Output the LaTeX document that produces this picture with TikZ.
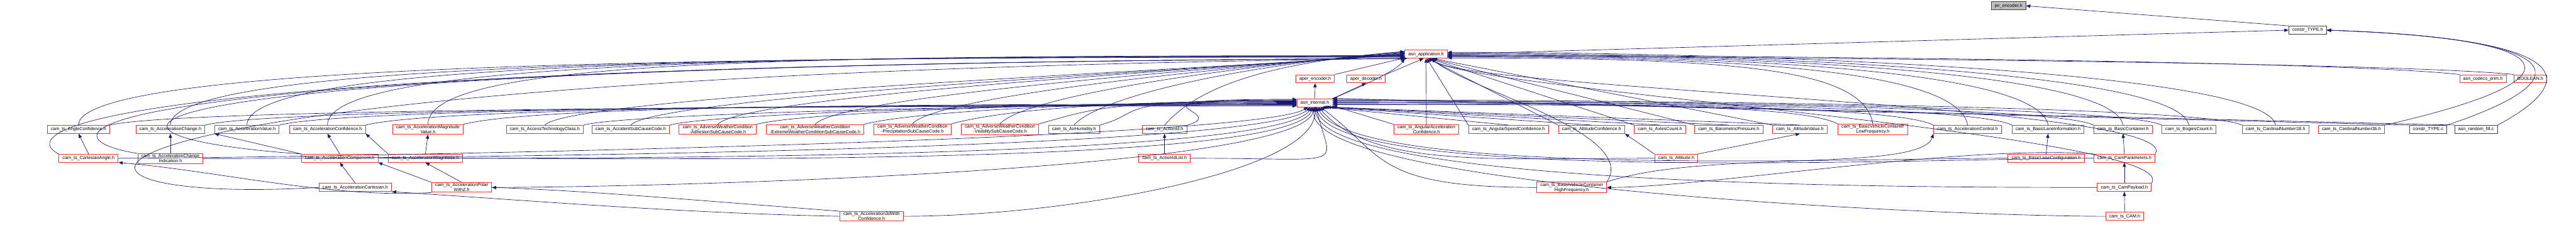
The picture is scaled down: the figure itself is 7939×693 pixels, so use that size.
\documentclass[tikz,border=0pt]{standalone}
\usepackage{fontspec}
\newfontfamily\doxfont{Liberation Sans}
\usetikzlibrary{arrows.meta}
\definecolor{edgeBlue}{HTML}{191970}
\definecolor{hdrRed}{HTML}{FF2A2A}
\definecolor{rootGray}{HTML}{BFBFBF}

\begin{document}
\begin{tikzpicture}[
  x=1pt,y=-1pt,
  every node/.style={font=\doxfont\fontsize{14}{15.5}\selectfont},
  hdr/.style={draw=hdrRed,line width=1.6pt,fill=white,minimum height=25pt,
    inner xsep=11pt,inner ysep=2pt,align=center},
  plain/.style={hdr,draw=black!75},
  dep/.style={-{Triangle[length=13pt,width=10pt]},draw=edgeBlue,line width=1.3pt}
]
  \useasboundingbox (0,0) rectangle (7939,693);

  % top of the graph
  \node[plain,fill=rootGray] (jer) at (6190,18) {jer\_encoder.h};
  \node[plain] (ctype) at (7112,93) {constr\_TYPE.h};
  \node[hdr] (app) at (4395,167) {asn\_application.h};
  \node[hdr] (aenc) at (4053,243) {aper\_encoder.h};
  \node[hdr] (adec) at (4210,243) {aper\_decoder.h};
  \node[hdr] (prim) at (7652,243) {asn\_codecs\_prim.h};
  \node[hdr] (bool) at (7798,243) {BOOLEAN.h};
  \node[hdr] (int) at (4052,317) {asn\_internal.h};

  % first row of types
  \node[hdr] (angconf) at (242,399) {cam\_ts\_AngleConfidence.h};
  \node[hdr] (accchg) at (525,399) {cam\_ts\_AccelerationChange.h};
  \node[hdr] (accval) at (761,399) {cam\_ts\_AccelerationValue.h};
  \node[hdr] (accconf) at (1009,399) {cam\_ts\_AccelerationConfidence.h};
  \node[hdr] (accmagval) at (1319,399) {cam\_ts\_AccelerationMagnitude\\Value.h};
  \node[hdr] (acctech) at (1679,399) {cam\_ts\_AccessTechnologyClass.h};
  \node[hdr] (accsub) at (1944,399) {cam\_ts\_AccidentSubCauseCode.h};
  \node[hdr] (awcadh) at (2212,399) {cam\_ts\_AdverseWeatherCondition\\-AdhesionSubCauseCode.h};
  \node[hdr] (awcext) at (2512,399) {cam\_ts\_AdverseWeatherCondition\\-ExtremeWeatherConditionSubCauseCode.h};
  \node[hdr] (awcprec) at (2812,399) {cam\_ts\_AdverseWeatherCondition\\-PrecipitationSubCauseCode.h};
  \node[hdr] (awcvis) at (3082,399) {cam\_ts\_AdverseWeatherCondition\\-VisibilitySubCauseCode.h};
  \node[hdr] (airhum) at (3310,399) {cam\_ts\_AirHumidity.h};
  \node[hdr] (actid) at (3589,399) {cam\_ts\_ActionId.h};
  \node[hdr] (angaccconf) at (4396,399) {cam\_ts\_AngularAcceleration\\Confidence.h};
  \node[hdr] (angspd) at (4649,399) {cam\_ts\_AngularSpeedConfidence.h};
  \node[hdr] (altconf) at (4905,399) {cam\_ts\_AltitudeConfidence.h};
  \node[hdr] (axles) at (5116,399) {cam\_ts\_AxlesCount.h};
  \node[hdr] (baro) at (5328,399) {cam\_ts\_BarometricPressure.h};
  \node[hdr] (altval) at (5547,399) {cam\_ts\_AltitudeValue.h};
  \node[hdr] (bvclf) at (5772,399) {cam\_ts\_BasicVehicleContainer\\LowFrequency.h};
  \node[hdr] (accctl) at (6064,399) {cam\_ts\_AccelerationControl.h};
  \node[hdr] (bli) at (6312,399) {cam\_ts\_BasicLaneInformation.h};
  \node[hdr] (bcont) at (6543,399) {cam\_ts\_BasicContainer.h};
  \node[hdr] (bogies) at (6746,399) {cam\_ts\_BogiesCount.h};
  \node[hdr] (card1b) at (7013,399) {cam\_ts\_CardinalNumber1B.h};
  \node[hdr] (card3b) at (7247,399) {cam\_ts\_CardinalNumber3b.h};
  \node[plain] (ctypec) at (7483,399) {constr\_TYPE.c};
  \node[plain] (rfill) at (7631,399) {asn\_random\_fill.c};

  % lower rows
  \node[hdr] (cartang) at (273,488) {cam\_ts\_CartesianAngle.h};
  \node[hdr] (accchgind) at (525,489) {cam\_ts\_AccelerationChange\\Indication.h};
  \node[hdr] (acccomp) at (1047,488) {cam\_ts\_AccelerationComponent.h};
  \node[hdr] (accmag) at (1311,488) {cam\_ts\_AccelerationMagnitude.h};
  \node[hdr] (actidl) at (3589,488) {cam\_ts\_ActionIdList.h};
  \node[hdr] (alt) at (5166,488) {cam\_ts\_Altitude.h};
  \node[hdr] (blc) at (6306,488) {cam\_ts\_BasicLaneConfiguration.h};
  \node[hdr] (campar) at (6547,488) {cam\_ts\_CamParameters.h};
  \node[hdr] (acccart) at (1095,578) {cam\_ts\_AccelerationCartesian.h};
  \node[hdr] (accpolz) at (1423,578) {cam\_ts\_AccelerationPolar\\WithZ.h};
  \node[hdr] (bvchf) at (4844,578) {cam\_ts\_BasicVehicleContainer\\HighFrequency.h};
  \node[hdr] (campay) at (6547,578) {cam\_ts\_CamPayload.h};
  \node[hdr] (acc3d) at (2686,667) {cam\_ts\_Acceleration3dWith\\Confidence.h};
  \node[hdr] (cam) at (6548,667) {cam\_ts\_CAM.h};

  % includes near the root
  \draw[dep] (ctype.north west) -- (jer.east);
  \draw[dep] (app.east) -- (ctype.west);
  \draw[dep] (int.north east) .. controls +(60,-25) and +(-25,40) .. (app.south west);
  \draw[dep] (aenc.north east) -- (app.190);
  \draw[dep] (adec.north east) -- (app.-120);
  \draw[dep] (int.north) -- (aenc.south);
  \draw[dep] (int.north east) -- (adec.south);
  \draw[dep] (prim.north west) .. controls +(-400,-45) and +(700,0) .. (app.-3);
  \draw[dep] (bool.north west) .. controls +(-400,-40) and +(700,0) .. (app.-6);
  \foreach \n in {ctypec,rfill,card3b}
    \draw[dep] (\n.north east) .. controls (7950,250) and (7950,120) .. (ctype.east);

  % first row, left part: up, then along to the two headers
  \foreach \n [count=\i, evaluate=\i as \a using 190-1.2*\i,
      evaluate=\i as \b using 192-1.5*\i] in {angconf,accchg,accval,accconf,accmagval}
    {\draw[dep] (\n.north) .. controls +(0,-200) and +(-1900,0) .. (app.\a);
     \draw[dep] (\n.north east) .. controls +(200,-50) and +(-1500,0) .. (int.\b);}
  \foreach \n [count=\i, evaluate=\i as \a using 183-1.2*\i,
      evaluate=\i as \b using 184-1.8*\i] in {acctech,accsub,awcadh,awcext,
      awcprec,awcvis,airhum,actid}
    {\draw[dep] (\n.north) .. controls +(80,-90) and +(-500,40) .. (app.\a);
     \draw[dep] (\n.north east) .. controls +(150,-40) and +(-600,0) .. (int.\b);}

  % first row, right part
  \draw[dep] (angaccconf.north) -- (app.south);
  \draw[dep] (angaccconf.north west) -- (int.-10);
  \foreach \n [count=\i, evaluate=\i as \a using -20-12*\i,
      evaluate=\i as \b using -12-4*\i] in {altval,baro,axles,altconf,angspd}
    {\draw[dep] (\n.north west) -- (app.\a);
     \draw[dep] (\n.north) -- (int.\b);}
  \foreach \n [count=\i, evaluate=\i as \a using 8-3*\i,
      evaluate=\i as \b using 12-3*\i] in {card1b,bogies,bcont,bli,accctl,bvclf}
    {\draw[dep] (\n.north) .. controls +(-30,-170) and +(900,0) .. (app.\a);
     \draw[dep] (\n.north west) .. controls +(-120,-60) and +(900,0) .. (int.\b);}
  \draw[dep] (ctypec.north west) -- (int.13);
  \draw[dep] (rfill.north west) -- (int.14);

  % between the types
  \draw[dep] (cartang.north) -- (angconf.south);
  \draw[dep] (accchgind.north) -- (accchg.south);
  \draw[dep] (acccomp.north west) -- (accval.south west);
  \draw[dep] (acccomp.north) -- (accconf.south);
  \draw[dep] (accmag.north west) -- (accconf.south east);
  \draw[dep] (accmag.north) -- (accmagval.south);
  \draw[dep] (acccart.north) -- (acccomp.south);
  \draw[dep] (accpolz.north west) -- (acccomp.south east);
  \draw[dep] (accpolz.north) -- (accmag.south);
  \draw[dep] (accpolz.south west) .. controls +(-300,20) and +(300,25) .. (cartang.south east);
  \draw[dep] (acc3d.west) .. controls +(-500,-10) and +(400,25) .. (acccart.south east);
  \draw[dep] (acc3d.north west) .. controls +(-400,-30) and +(300,10) .. (accpolz.east);
  \draw[dep] (actidl.north) -- (actid.south);
  \draw[dep] (alt.north east) -- (altval.south);
  \draw[dep] (alt.north west) -- (altconf.south east);
  \draw[dep] (bvchf.north east) .. controls +(300,-100) and +(-40,120) .. (accctl.south west);
  \draw[dep] (blc.north) -- (bli.south);
  \draw[dep] (campar.north) -- (bcont.south);
  \draw[dep] (campar.north west) .. controls +(-400,-30) and +(300,0) .. (bvchf.east);
  \draw[dep] (campay.north) -- (campar.south);
  \draw[dep] (cam.north) -- (campay.south);

  % lower rows up the left side
  \foreach \n [count=\i] in {cartang,accchgind,acccomp}
    \draw[dep] (\n.north west) .. controls (40+30*\i,420) and (60+20*\i,200) .. (app.192);
  \draw[dep] (acccart.west) .. controls (-60,640) and (-40,230) .. (app.193);

  % lower rows into asn_internal.h
  \foreach \n [count=\i, evaluate=\i as \c using 200+12*\i] in {cartang,accchgind,
      acccomp,accmag,accpolz,acc3d,actidl}
    \draw[dep] (\n.east) .. controls +(500,0) and +(\c:200pt) .. (int.\c);
  \foreach \n [count=\i, evaluate=\i as \c using 335-12*\i] in {bvchf,alt,blc,
      campar,campay,cam}
    \draw[dep] (\n.west) .. controls +(-500,0) and +(\c:250pt) .. (int.\c);
  \foreach \n in {bvchf,campar,campay}
    \draw[dep] (\n.north east) .. controls +(100,-150) and +(-40:150pt) .. (app.-40);
\end{tikzpicture}
\end{document}
